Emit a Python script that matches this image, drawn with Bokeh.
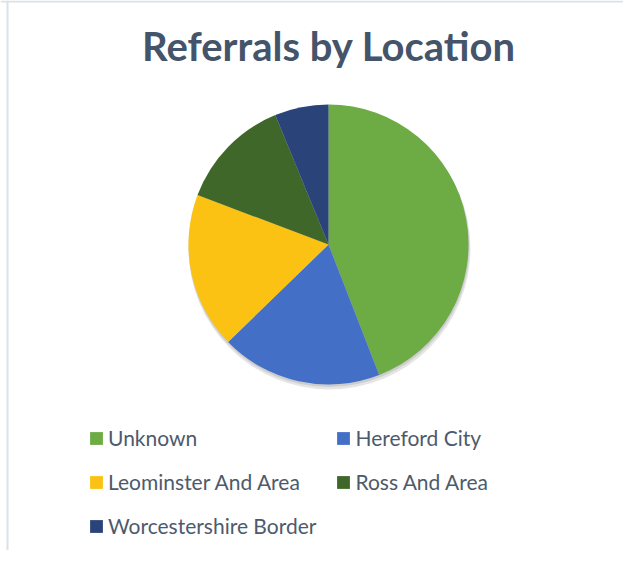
import numpy as np
from bokeh.plotting import figure
from bokeh.models import ColumnDataSource, Range1d, Label, Span
from bokeh.embed import file_html
from bokeh.resources import INLINE

# ---- data ----
locations = ["Unknown", "Hereford City", "Leominster And Area", "Ross And Area", "Worcestershire Border"]
referrals = [71, 30, 29, 21, 10]
colors = ["#6DAB44", "#4370C6", "#FBC214", "#40672A", "#2A4479"]
title_text = "Referrals by Location"

W, H = 623, 550
vals = np.array(referrals, dtype=float)
frac = vals / vals.sum()
cum = np.concatenate([[0.0], np.cumsum(frac)])
start = np.pi / 2 - 2 * np.pi * cum[:-1]
end = np.pi / 2 - 2 * np.pi * cum[1:]

src = ColumnDataSource(dict(location=locations, value=referrals, color=colors,
                            start=start, end=end))

p = figure(width=W, height=H, output_backend="svg", toolbar_location=None,
           x_range=Range1d(0, W), y_range=Range1d(0, H),
           min_border=0, min_border_left=0, min_border_right=0,
           min_border_top=0, min_border_bottom=0)
p.axis.visible = False
p.grid.visible = False
p.outline_line_color = None
p.background_fill_color = "white"

cx, cy, r = 328, 306, 140

# soft shadow
p.circle(x=[cx + 1], y=[cy - 4], radius=r + 1, fill_color="black", fill_alpha=0.10, line_color=None)
p.circle(x=[cx + 0.5], y=[cy - 2], radius=r + 0.5, fill_color="black", fill_alpha=0.10, line_color=None)

p.wedge(x=cx, y=cy, radius=r, start_angle="start", end_angle="end", direction="clock",
        fill_color="color", line_color=None, source=src, legend_field="location")

# border lines of chart area
p.add_layout(Span(location=7, dimension="height", line_color="#DCE1E8", line_width=2))
p.add_layout(Span(location=H - 1, dimension="width", line_color="#DCE1E8", line_width=2))

p.add_layout(Label(x=328.5, y=505, text=title_text, text_align="center",
                   text_baseline="alphabetic", text_font="Lato", text_font_style="bold",
                   text_font_size="40px", text_color="#44546A"))

lg = p.legend[0]
lg.orientation = "horizontal"
lg.ncols = 2
lg.location = (88, 12)
lg.label_text_font = "Lato"
lg.label_text_font_size = "21px"
lg.label_text_color = "#4D5A6B"
lg.glyph_width = 16
lg.glyph_height = 16
lg.label_standoff = 4
lg.spacing = 19
lg.padding = 0
lg.margin = 0
lg.border_line_color = None
lg.background_fill_alpha = 0

open("out.html", "w").write(file_html(p, INLINE))
